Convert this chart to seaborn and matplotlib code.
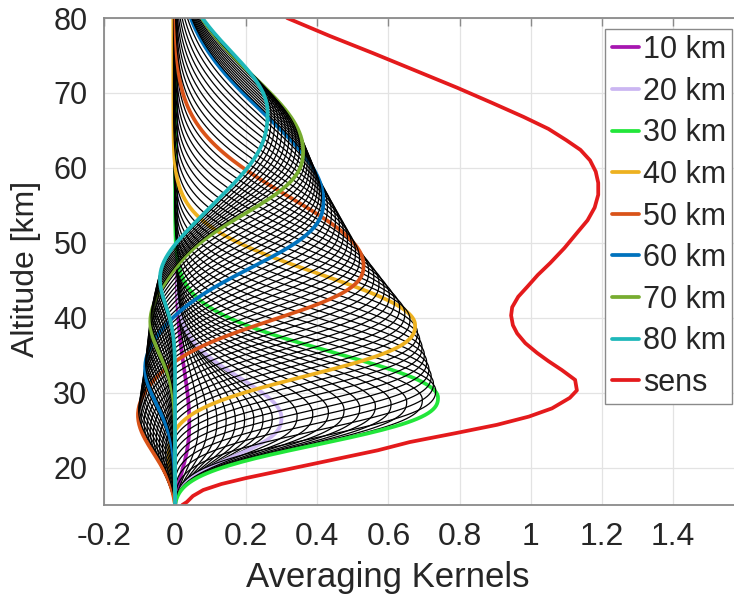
import numpy as np
import pandas as pd
import matplotlib
matplotlib.use("Agg")
import matplotlib.pyplot as plt
import seaborn as sns

# ---- kernel parameters (coloured kernels) ----
kernel_levels = [10, 20, 30, 40, 50, 60, 70, 80]          # nominal altitude [km]
peak_alt      = [26.0, 26.6, 29.3, 39.0, 47.0, 55.6, 62.3, 67.5]
peak_val      = [0.04, 0.30, 0.74, 0.675, 0.53, 0.417, 0.36, 0.26]
width_below   = [6.0, 4.9, 5.8, 6.3, 6.6, 8.0, 7.8, 10.0]
width_above   = [7.0, 5.3, 6.0, 6.8, 9.1, 11.5, 10.0, 8.0]
lobe_val      = [0.0, 0.0, 0.0, 0.02, 0.105, 0.085, 0.07, 0.05]
lobe_alt      = [20.0, 20.0, 21.0, 22.0, 27.0, 33.4, 39.5, 46.0]
lobe_width    = [4.0, 4.0, 4.0, 4.5, 5.0, 5.0, 4.5, 4.0]
tail_val      = [0.004, 0.006, 0.0, -0.005, 0.0, 0.0, 0.0, 0.0]

# ---- sensitivity curve ----
sens_alt = [15.0, 15.4, 16.2, 17.0, 17.8, 18.6, 19.6, 20.6, 21.5, 22.3, 23.4, 24.6,
            25.7, 26.8, 27.9, 29.3, 30.3, 31.7, 33.0, 34.2, 35.3, 36.6, 37.9, 39.0,
            40.3, 41.4, 42.8, 44.1, 45.7, 47.3, 49.3, 51.3, 53.0, 54.7, 56.4, 58.0,
            59.5, 61.0, 62.4, 63.7, 65.2, 66.8, 68.7, 70.7, 73.0, 75.3, 77.6, 80.0]
sens_val = [0.02, 0.033, 0.05, 0.079, 0.13, 0.20, 0.30, 0.40, 0.49, 0.57, 0.66, 0.79,
            0.905, 0.995, 1.06, 1.11, 1.13, 1.125, 1.088, 1.05, 1.018, 0.985, 0.962, 0.95,
            0.945, 0.948, 0.965, 0.99, 1.02, 1.055, 1.095, 1.13, 1.16, 1.18, 1.19, 1.19,
            1.183, 1.167, 1.14, 1.10, 1.05, 0.98, 0.89, 0.793, 0.675, 0.557, 0.435, 0.315]

all_levels = np.arange(10, 81)
alt = np.arange(15.0, 80.001, 0.25)

colour_labels = ["10 km", "20 km", "30 km", "40 km", "50 km", "60 km", "70 km", "80 km"]
colour_values = ["#A616B0", "#CBB6F2", "#22E63A", "#EDB120", "#D95319",
                 "#0072BD", "#77AC30", "#1FB8BA"]
sens_label, sens_colour = "sens", "#E41A1C"


def kernel(level):
    p = lambda arr: np.interp(level, kernel_levels, arr)
    zp, a, slo, shi = p(peak_alt), p(peak_val), p(width_below), p(width_above)
    b, zn, sn, tail = p(lobe_val), p(lobe_alt), p(lobe_width), p(tail_val)
    dz = alt - zp
    g = np.where(dz < 0,
                 np.exp(-0.5 * np.abs(dz / slo) ** 2.5),
                 np.exp(-0.5 * (dz / shi) ** 2))
    k = a * g + np.where(dz > 0, tail * (1 - g), 0.0)
    k -= b * np.exp(-0.5 * ((alt - zn) / sn) ** 2)
    k *= 1 - np.exp(-(alt - 15.0) / 2.0)
    return k


def black_frame(levels):
    return pd.DataFrame({
        "level": np.repeat(levels, len(alt)),
        "alt": np.tile(alt, len(levels)),
        "ak": np.concatenate([kernel(l) for l in levels]),
    })


sns.set_theme(style="whitegrid")
plt.rcParams["font.family"] = ["Liberation Sans", "DejaVu Sans"]

fig = plt.figure(figsize=(7.34, 6.0), dpi=100)
ax = fig.add_axes([104 / 734, 95 / 600, 640 / 734, 487 / 600])

# draw kernels in altitude order: coloured level, then the black levels above it
for i, (lv, lab, col) in enumerate(zip(kernel_levels, colour_labels, colour_values)):
    cdf = pd.DataFrame({"alt": alt, "ak": kernel(lv)})
    sns.lineplot(data=cdf, x="ak", y="alt", orient="y", estimator=None,
                 color=col, lw=2.7, label=lab, ax=ax)
    if i + 1 < len(kernel_levels):
        nxt = kernel_levels[i + 1]
        lvls = [l for l in all_levels if lv < l < nxt]
        sns.lineplot(data=black_frame(lvls), x="ak", y="alt", units="level",
                     estimator=None, orient="y", color="black", lw=0.9, ax=ax,
                     legend=False)

sdf = pd.DataFrame({"alt": sens_alt, "ak": sens_val})
sns.lineplot(data=sdf, x="ak", y="alt", orient="y", estimator=None,
             color=sens_colour, lw=2.7, label=sens_label, ax=ax)

ax.set_xlim(-0.2, 1.6)
ax.set_ylim(15, 80)
xt = [-0.2, 0, 0.2, 0.4, 0.6, 0.8, 1.0, 1.2, 1.4]
ax.set_xticks(xt)
ax.set_xticklabels(["-0.2", "0", "0.2", "0.4", "0.6", "0.8", "1", "1.2", "1.4"])
ax.set_yticks([20, 30, 40, 50, 60, 70, 80])
ax.set_yticklabels(["20", "30", "40", "50", "60", "70", "80"])

ax.set_facecolor("white")
ax.grid(True, color="#e3e3e3", lw=0.9)
for sp in ax.spines.values():
    sp.set_color("#8a8a8a")
    sp.set_linewidth(1.3)
ax.tick_params(axis="both", direction="in", length=6, width=1.0, color="#8a8a8a",
               labelcolor="#262626", top=True, right=True)
ax.tick_params(axis="x", pad=12, labelsize=23)
ax.tick_params(axis="y", pad=12, labelsize=22)

ax.set_xlabel("Averaging Kernels", fontsize=25, color="#262626", va="center")
ax.set_ylabel("Altitude [km]", fontsize=23, color="#262626", va="center")
ax.xaxis.set_label_coords(0.444, -0.148)
ax.yaxis.set_label_coords(-0.122, 0.485)

sns.move_legend(ax, "upper right", bbox_to_anchor=(732 / 734, 1 - 29 / 600),
                bbox_transform=fig.transFigure, title=None, frameon=True,
                fontsize=22, labelspacing=0.38, handlelength=0.9,
                handletextpad=0.12, borderpad=0.2, borderaxespad=0.0,
                fancybox=False, framealpha=1.0, edgecolor="#8a8a8a")
leg = ax.get_legend()
leg.get_frame().set_linewidth(1.0)

fig.savefig("out.png", dpi=100, facecolor="white")
